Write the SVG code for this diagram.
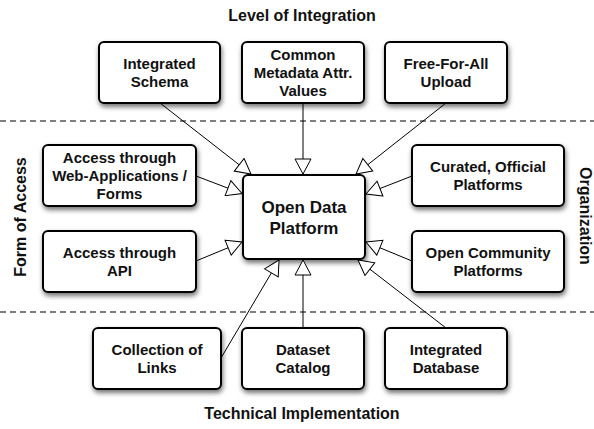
<svg xmlns="http://www.w3.org/2000/svg" width="594" height="429" viewBox="0 0 594 429">
<defs>
<filter id="sh" x="-20%" y="-20%" width="140%" height="160%">
<feDropShadow dx="1" dy="3" stdDeviation="2.5" flood-color="#000" flood-opacity="0.55"/>
</filter>
<marker id="ah" markerUnits="userSpaceOnUse" markerWidth="18" markerHeight="18" refX="16" refY="9" orient="auto">
<path d="M1,1 L16,9 L1,17 Z" fill="#fff" stroke="#000" stroke-width="1"/>
</marker>
</defs>
<style>
.box{fill:#fff;stroke:#000;stroke-width:2;filter:url(#sh)}
.t{font-family:"Liberation Sans",Arial,sans-serif;font-weight:bold;font-size:15px;text-anchor:middle;fill:#111}
.tc{font-size:17px}
.lab{font-family:"Liberation Sans",Arial,sans-serif;font-weight:bold;font-size:16px;text-anchor:middle;fill:#111}
.dash{stroke:#555;stroke-width:1.5;stroke-dasharray:6 4;fill:none}
.c{stroke:#000;stroke-width:1;fill:none;marker-end:url(#ah)}
</style>
<rect width="594" height="429" fill="#fff"/>
<g id="labels">
<text class="lab" x="302" y="21">Level of Integration</text>
<text class="lab" x="302" y="419">Technical Implementation</text>
<text class="lab" transform="translate(26,217) rotate(-90)">Form of Access</text>
<text class="lab" transform="translate(580,216) rotate(90)">Organization</text>
</g>
<g id="separators">
<line class="dash" x1="0" y1="121" x2="594" y2="121"/>
<line class="dash" x1="0" y1="312" x2="594" y2="312"/>
</g>
<g id="n1"><rect class="box" x="99" y="42" width="121" height="61" rx="5"/>
<text class="t" x="159.5" y="69">Integrated</text><text class="t" x="159.5" y="87">Schema</text></g>
<g id="n2"><rect class="box" x="242" y="42" width="122" height="61" rx="5"/>
<text class="t" x="303" y="60">Common</text><text class="t" x="303" y="78">Metadata Attr.</text><text class="t" x="303" y="96">Values</text></g>
<g id="n3"><rect class="box" x="385" y="42" width="122" height="61" rx="5"/>
<text class="t" x="446" y="69">Free-For-All</text><text class="t" x="446" y="87">Upload</text></g>
<g id="n4"><rect class="box" x="43" y="145" width="153" height="61" rx="5"/>
<text class="t" x="119.5" y="163">Access through</text><text class="t" x="119.5" y="181">Web-Applications /</text><text class="t" x="119.5" y="199">Forms</text></g>
<g id="n5"><rect class="box" x="43" y="231" width="153" height="61" rx="5"/>
<text class="t" x="119.5" y="258">Access through</text><text class="t" x="119.5" y="276">API</text></g>
<g id="center"><rect class="box" x="243" y="175" width="122" height="84" rx="5"/>
<text class="t tc" x="304" y="213">Open Data</text><text class="t tc" x="304" y="234">Platform</text></g>
<g id="n6"><rect class="box" x="412" y="145" width="152" height="61" rx="5"/>
<text class="t" x="488" y="172">Curated, Official</text><text class="t" x="488" y="190">Platforms</text></g>
<g id="n7"><rect class="box" x="412" y="231" width="152" height="61" rx="5"/>
<text class="t" x="488" y="258">Open Community</text><text class="t" x="488" y="276">Platforms</text></g>
<g id="n8"><rect class="box" x="93" y="328" width="128" height="61" rx="5"/>
<text class="t" x="157" y="355">Collection of</text><text class="t" x="157" y="373">Links</text></g>
<g id="n9"><rect class="box" x="242" y="328" width="122" height="61" rx="5"/>
<text class="t" x="303" y="355">Dataset</text><text class="t" x="303" y="373">Catalog</text></g>
<g id="n10"><rect class="box" x="385" y="328" width="122" height="61" rx="5"/>
<text class="t" x="446" y="355">Integrated</text><text class="t" x="446" y="373">Database</text></g>
<g id="connectors">
<line class="c" x1="160" y1="103" x2="251" y2="174"/>
<line class="c" x1="303" y1="103" x2="303" y2="174"/>
<line class="c" x1="446" y1="103" x2="356" y2="174"/>
<line class="c" x1="196" y1="176" x2="242" y2="193.5"/>
<line class="c" x1="196" y1="261" x2="242" y2="242"/>
<line class="c" x1="412" y1="176" x2="366" y2="194"/>
<line class="c" x1="412" y1="261" x2="366" y2="242"/>
<line class="c" x1="221" y1="358" x2="279" y2="260"/>
<line class="c" x1="303" y1="328" x2="303" y2="260"/>
<line class="c" x1="446" y1="328" x2="358" y2="260"/>
</g>
</svg>
